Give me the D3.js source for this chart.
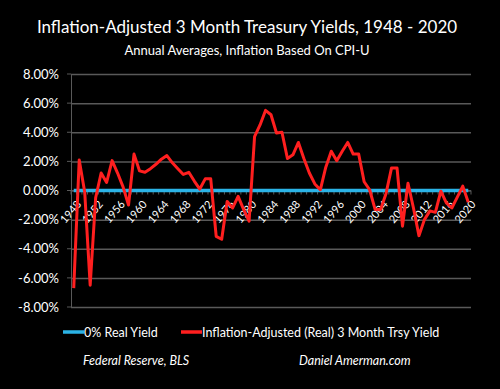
<!DOCTYPE html>
<html>
<head>
<meta charset="utf-8">
<style>
  body { margin: 0; background: #000; }
  text { font-family: Lato, "Open Sans", sans-serif; fill: #fff; }
</style>
</head>
<body>
<div id="vizDiv"></div>
<script src="https://d3js.org/d3.v7.min.js"></script>
<script>
// years 1948 - 2020
const years = d3.range(1948, 2021);

// real 3 month t-bill yield (%)
const realYield = [
  -6.7, 2.1, -0.1, -6.5, -0.5, 1.2, 0.55, 2.05, 1.2, 0.25,
  -1.0, 2.5, 1.35, 1.25, 1.5, 1.8, 2.15, 2.4, 1.9, 1.5,
  1.1, 1.25, 0.65, 0.1, 0.8, 0.8, -3.15, -3.35, -0.75, -1.2,
  -0.4, -1.3, -2.1, 3.7, 4.5, 5.5, 5.2, 3.95, 4.0, 2.2,
  2.45, 3.3, 2.2, 1.2, 0.45, 0.05, 1.6, 2.7, 2.05, 2.7,
  3.3, 2.5, 2.5, 0.6, 0.05, -1.3, -1.3, -0.2, 1.55, 1.55,
  -2.45, 0.5, -1.2, -3.1, -2.0, -1.4, -1.5, -0.05, -0.85, -1.2,
  -0.45, 0.3, -0.8
];

const zeroLine = years.map(() => 0);

const yTicks = [-8, -6, -4, -2, 0, 2, 4, 6, 8];
const yearLabels = years.filter(y => (y - 1948) % 4 === 0);

const W = 500, H = 389;
const plot = { left: 71, right: 471, top: 74, bottom: 307 };

const svg = d3.select("#vizDiv")
  .append("svg")
  .attr("width", W)
  .attr("height", H);

svg.append("rect").attr("width", W).attr("height", H).attr("fill", "#000");

const x = d3.scaleBand().domain(years).range([plot.left, plot.right]);
const cx = d => x(d) + x.bandwidth() / 2;
const y = d3.scaleLinear().domain([-8, 8]).range([plot.bottom, plot.top]);

// titles
svg.append("text")
  .attr("x", 247).attr("y", 33)
  .attr("text-anchor", "middle")
  .style("font-size", "17px")
  .text("Inflation-Adjusted 3 Month Treasury Yields, 1948 - 2020");

svg.append("text")
  .attr("x", 247).attr("y", 55)
  .attr("text-anchor", "middle")
  .style("font-size", "13px")
  .text("Annual Averages, Inflation Based On CPI-U");

// y axis + gridlines
const yAxis = svg.append("g")
  .attr("transform", `translate(${plot.left},0)`)
  .call(d3.axisLeft(y)
    .tickValues(yTicks)
    .tickSize(-(plot.right - plot.left))
    .tickPadding(12)
    .tickFormat(d => d.toFixed(2) + "%"));

yAxis.select(".domain").attr("stroke", "#595959");
yAxis.selectAll(".tick line").attr("stroke", "#595959").attr("stroke-width", 1.5);
yAxis.selectAll(".tick text")
  .style("font-size", "13px")
  .attr("fill", "#fff");

// little ticks left of the y axis
svg.append("g").selectAll("line")
  .data(yTicks)
  .join("line")
  .attr("x1", plot.left - 4).attr("x2", plot.left)
  .attr("y1", d => y(d)).attr("y2", d => y(d))
  .attr("stroke", "#595959");

// x axis at zero
svg.append("line")
  .attr("x1", plot.left).attr("x2", plot.right)
  .attr("y1", y(0)).attr("y2", y(0))
  .attr("stroke", "#595959");

svg.append("g").selectAll("line")
  .data(years.concat([2021]))
  .join("line")
  .attr("x1", d => d === 2021 ? plot.right : x(d))
  .attr("x2", d => d === 2021 ? plot.right : x(d))
  .attr("y1", y(0)).attr("y2", y(0) + 4)
  .attr("stroke", "#595959");

// zero line series
svg.append("path")
  .datum(zeroLine)
  .attr("fill", "none")
  .attr("stroke", "#2bb3e6")
  .attr("stroke-width", 3.5)
  .attr("d", d3.line().x((d, i) => cx(years[i])).y(d => y(d)));

// year labels, slanted
const yl = svg.append("g").selectAll("g")
  .data(yearLabels)
  .join("g")
  .attr("transform", d => `translate(${cx(d) + 8},${y(0) + 14}) rotate(-50)`);
yl.append("text")
  .attr("text-anchor", "end")
  .style("font-size", "11px")
  .text(d => d);

// real yield line
svg.append("path")
  .datum(realYield)
  .attr("fill", "none")
  .attr("stroke", "#ff1f1f")
  .attr("stroke-width", 3)
  .attr("stroke-linejoin", "round")
  .attr("d", d3.line().x((d, i) => cx(years[i])).y(d => y(d)));

// legend
const legend = [
  { label: "0% Real Yield", color: "#2bb3e6", x: 63 },
  { label: "Inflation-Adjusted (Real) 3 Month Trsy Yield", color: "#ff1f1f", x: 181 }
];
const lg = svg.append("g").selectAll("g")
  .data(legend)
  .join("g")
  .attr("transform", d => `translate(${d.x},332)`);
lg.append("line")
  .attr("x1", 0).attr("x2", 21)
  .attr("stroke", d => d.color)
  .attr("stroke-width", 3.5);
lg.append("text")
  .attr("x", 21).attr("y", 4.5)
  .style("font-size", "12.5px")
  .text(d => d.label);

// sources
svg.append("text")
  .attr("x", 83).attr("y", 365)
  .style("font-size", "12.5px")
  .style("font-style", "italic")
  .text("Federal Reserve, BLS");

svg.append("text")
  .attr("x", 299).attr("y", 365)
  .style("font-size", "12.5px")
  .style("font-style", "italic")
  .text("Daniel Amerman.com");
</script>
</body>
</html>
